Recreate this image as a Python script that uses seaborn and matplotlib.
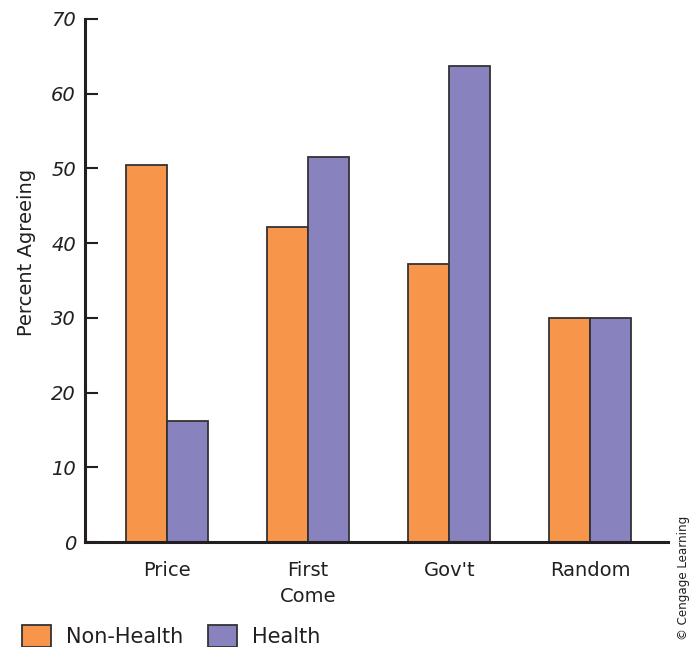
import matplotlib
matplotlib.use("Agg")
import matplotlib.pyplot as plt
import seaborn as sns
import pandas as pd
from matplotlib.patches import Patch

categories = ["Price", "First\nCome", "Gov't", "Random"]
non_health = [50.5, 42.2, 37.2, 30.0]
health = [16.2, 51.5, 63.7, 30.0]
series_names = ["Non-Health", "Health"]
y_ticks = [0, 10, 20, 30, 40, 50, 60, 70]

df = pd.DataFrame({
    "category": categories * 2,
    "value": non_health + health,
    "group": [series_names[0]] * len(categories) + [series_names[1]] * len(categories),
})

sns.set_theme(style="white")
plt.rcParams['font.family'] = ['DejaVu Sans']
text_color = "#231f20"

fig = plt.figure(figsize=(6.98, 6.47), dpi=100)
ax = fig.add_axes([85 / 698, 1 - 542 / 647, (668 - 85) / 698, (542 - 19) / 647])

palette = {"Non-Health": "#F7964A", "Health": "#8882BE"}
sns.barplot(data=df, x="category", y="value", hue="group", order=categories,
            hue_order=series_names, palette=palette, width=0.58, saturation=1,
            edgecolor="#333333", linewidth=1.3, ax=ax, legend=False)

ax.set_xlim(-0.58, 3.55)
ax.set_ylim(0, 70)
ax.set_yticks(y_ticks)
ax.set_yticklabels([str(t) for t in y_ticks], fontstyle="italic", fontsize=14,
                   color=text_color)
ax.tick_params(axis="y", direction="in", length=9, width=1.5, color=text_color,
               left=True, pad=6.5)
ax.tick_params(axis="x", length=0, pad=14, labelsize=14, labelcolor=text_color)
for lab in ax.get_xticklabels():
    lab.set_linespacing(1.45)
    lab.set_verticalalignment("top")

for s in ["top", "right"]:
    ax.spines[s].set_visible(False)
for s in ["left", "bottom"]:
    ax.spines[s].set_linewidth(2.2)
    ax.spines[s].set_color(text_color)

ax.set_xlabel("")
ax.set_ylabel("")
fig.text(27 / 698, 1 - 252 / 647, "Percent Agreeing", rotation=90, ha="center",
         va="center", fontsize=14, color=text_color)

fig.text(683 / 698, 1 - 578 / 647, "© Cengage Learning", rotation=90, ha="center",
         va="center", fontsize=8.6, color=text_color)

handles = [Patch(facecolor=palette[n], edgecolor="#333333", linewidth=1.3) for n in series_names]
leg = fig.legend(handles, series_names, loc="center left",
                 bbox_to_anchor=(22 / 698, 1 - 636 / 647), ncol=2, frameon=False,
                 fontsize=15, handlelength=1.4, handleheight=1.3, handletextpad=0.7,
                 columnspacing=1.2, borderpad=0, borderaxespad=0)
for t in leg.get_texts():
    t.set_color(text_color)

fig.savefig("out.png", dpi=100)
